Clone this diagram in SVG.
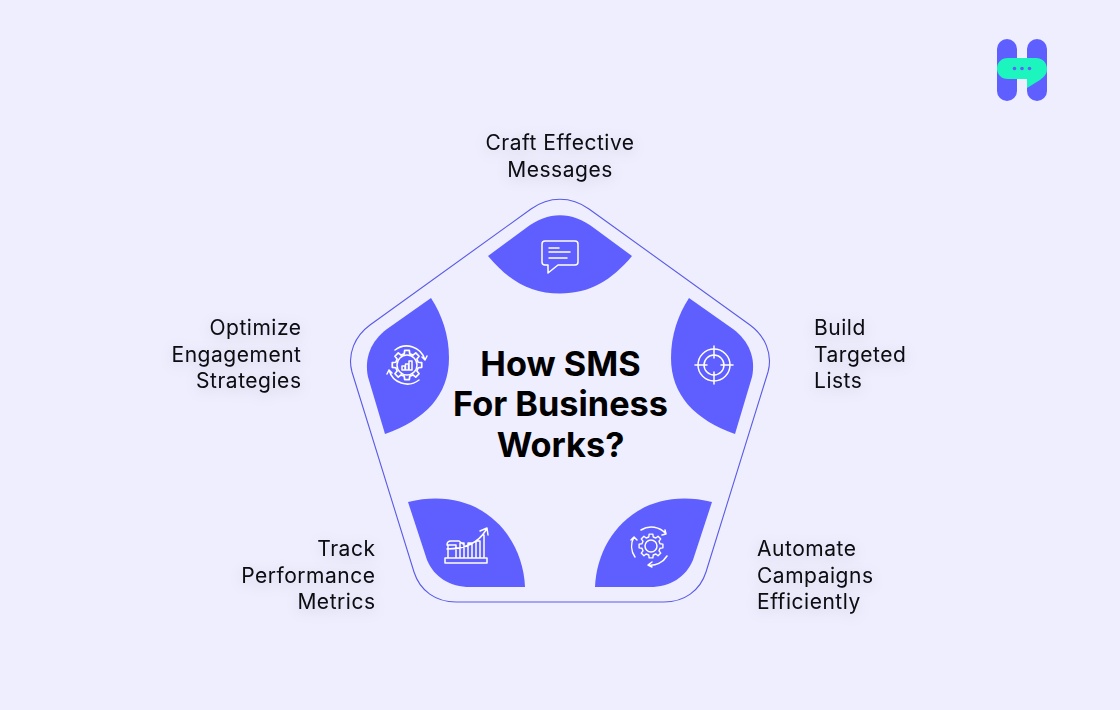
<svg xmlns="http://www.w3.org/2000/svg" width="1120" height="710" viewBox="0 0 1120 710">
<style>
.bg{fill:#eeeeff}
.blob{fill:#5f5fff}
.outline{fill:none;stroke:#5a5ae6;stroke-width:1.1}
.ic{fill:none;stroke:#fff;stroke-width:1.5;stroke-linecap:round;stroke-linejoin:round}
.lbl{font-family:Inter,"Liberation Sans",sans-serif;font-size:21px;letter-spacing:.52px;fill:#08080f;filter:url(#glow)}
.title{font-family:Inter,"Liberation Sans",sans-serif;font-size:34.300px;font-weight:700;fill:#000;text-anchor:middle}
.end{text-anchor:end}
.mid{text-anchor:middle}
</style>
<defs>
<filter id="glow" x="-30%" y="-80%" width="160%" height="280%">
<feDropShadow dx="0" dy="3" stdDeviation="7" flood-color="#000" flood-opacity=".14"/>
</filter>
<path id="gear" d="M9.7-2.4 12.8-2V2L9.7 2.4 8.6 5.2 10.500 7.600 7.600 10.500 5.2 8.6 2.4 9.7 2 12.8H-2L-2.4 9.7-5.2 8.6-7.600 10.500-10.500 7.600-8.6 5.2-9.7 2.4-12.8 2V-2L-9.7-2.4-8.6-5.2-10.500-7.600-7.600-10.500-5.2-8.6-2.4-9.7-2-12.8H2L2.4-9.7 5.2-8.6 7.600-10.500 10.500-7.600 8.6-5.2Z"/>
</defs>
<rect class="bg" width="1120" height="710"/>
<g id="logo">
<rect x="997" y="39" width="20" height="62" rx="10" fill="#5f5fff"/>
<rect x="1027" y="39" width="20" height="62" rx="10" fill="#5f5fff"/>
<path d="M1008 58H1036C1043 58 1047 63 1047 69C1047 74 1044 77 1040 80L1027 88V79H1008C1001 79 997 74 997 68.500C997 63 1001 58 1008 58Z" fill="#1cf5bd"/>
<circle cx="1014.500" cy="68.500" r="1.800" fill="#5f5fff"/><circle cx="1022" cy="68.500" r="1.800" fill="#5f5fff"/><circle cx="1029.500" cy="68.500" r="1.800" fill="#5f5fff"/>
</g>
<g id="connectors">
<path class="outline" d="M531 209C549 196 571 196 589 209L750 325C765 336 773 354 768 372L706 572C700 591 684 602 664 602H456C436 602 420 591 414 572L352 372C347 354 355 336 370 325Z"/>
</g>
<g id="node-craft">
<path class="blob" d="M488 256 526 228C548 211 572 211 594 228L632 256C612 280 590 293.500 560 293.500C530 293.500 508 280 488 256Z"/>
<path class="ic" d="M545 241H575Q578 241 578 244V262Q578 265 575 265H558L548 273V265H545Q542 265 542 262V244Q542 241 545 241ZM549 248H559M549 252H570M549 258H567"/>
<text class="lbl mid" x="560" y="150.300">Craft Effective</text>
<text class="lbl mid" x="560" y="177.300">Messages</text>
</g>
<g id="node-build">
<path class="blob" d="M689 298 733 329C749 341 756 358 752 377L735 434C695 420 671 395 671 358C671 335 678 315 689 298Z"/>
<g class="ic" transform="translate(714 365)"><circle r="16"/><circle r="10"/><path d="M0-19V-7M0 7V19M-19 0H-7M7 0H19"/></g>
<text class="lbl" x="814" y="335.300">Build</text>
<text class="lbl" x="814" y="362.300">Targeted</text>
<text class="lbl" x="814" y="388.300">Lists</text>
</g>
<g id="node-automate">
<path class="blob" d="M712 502 693 560C686 577 670 587 650 587H595C597 535 640 485 712 502Z"/>
<g class="ic" transform="translate(651 546)"><use href="#gear" transform="scale(.93)"/><circle r="6"/>
<path d="M-10-16A19 19 0 0 1 15-12M15-12 14-16M15-12 11-11M16 10A19 19 0 0 1-3 19M-3 19 1 16M-3 19 1 21M-16 11A19 19 0 0 1-17-9M-17-9-20-6M-17-9-14-6"/></g>
<text class="lbl" x="757" y="556.300">Automate</text>
<text class="lbl" x="757" y="583.300">Campaigns</text>
<text class="lbl" x="757" y="609.300">Efficiently</text>
</g>
<g id="node-track">
<path class="blob" d="M408 502 427 560C434 577 450 587 470 587H525C523 535 480 485 408 502Z"/>
<path class="ic" d="M445 563V558H487V563ZM448 558V545H456V558M460 558V543H464V558M468 558V543H472V558M476 558V541H480V558M484 558V535M447 545Q447 541 451 541H459L463 544M447 549C462 549 477 545 486 530M480 531 487 528 488 535"/>
<text class="lbl end" x="375.500" y="556.300">Track</text>
<text class="lbl end" x="375.500" y="583.300">Performance</text>
<text class="lbl end" x="375.500" y="609.300">Metrics</text>
</g>
<g id="node-optimize">
<path class="blob" d="M431 298 387 329C371 341 364 358 368 377L385 434C425 420 449 395 449 358C449 335 442 315 431 298Z"/>
<g class="ic" transform="translate(407 365)"><use href="#gear" transform="scale(1.150)"/><circle r="10"/>
<path d="M-5 3V-1H-2V3ZM-1.500 3V-3H1.500V3ZM2 3V-6H5V3Z" transform="translate(0 2)"/>
<path d="M-12-15A19 19 0 0 1 18-5M18-5 15-8M18-5 20-9M12 15A19 19 0 0 1-18 5M-18 5-15 8M-18 5-20 9"/></g>
<text class="lbl end" x="301.500" y="335.300">Optimize</text>
<text class="lbl end" x="301.500" y="362.300">Engagement</text>
<text class="lbl end" x="301.500" y="388.300">Strategies</text>
</g>
<g id="center">
<text class="title" x="560.500" y="376">How SMS</text>
<text class="title" x="560.500" y="416">For Business</text>
<text class="title" x="560.500" y="457">Works?</text>
</g>
</svg>
